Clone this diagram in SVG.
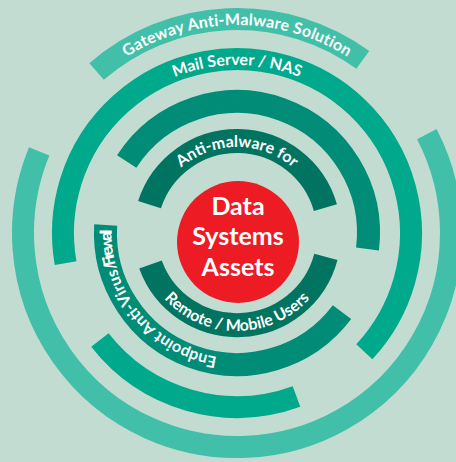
<svg xmlns="http://www.w3.org/2000/svg" width="456" height="462" viewBox="0 0 456 462">
  <style>
    .ring { fill: none; stroke-linecap: butt; }
    .r4 { stroke: #42bfa9; stroke-width: 22; }
    .r3 { stroke: #00a88c; stroke-width: 22; }
    .r2 { stroke: #008c76; stroke-width: 23; }
    .r1 { stroke: #007461; stroke-width: 24; }
    .label { fill: #ffffff; font-family: Lato, "Open Sans", sans-serif; font-weight: bold; font-size: 16px; }
    .core { fill: #ffffff; font-family: Lato, "Open Sans", sans-serif; font-weight: bold; font-size: 25px; text-anchor: middle; }
  </style>
  <defs>
    <!-- baselines for the curved labels, centred on (237,233) -->
    <path id="tp-gateway" d="M 56.9 129 A 208 208 0 0 1 417.1 129"/>
    <path id="tp-mail" d="M 91.5 149 A 168 168 0 0 1 382.5 149"/>
    <path id="tp-anti" d="M 151 233 A 86 86 0 0 1 323 233"/>
    <path id="tp-remote" d="M 139 233 A 98 98 0 0 0 335 233"/>
    <path id="tp-endpoint" d="M 337.2 308.5 A 125.5 125.5 0 0 1 111.7 225.3"/>
  </defs>

  <rect width="456" height="462" fill="#c2dcd1"/>

  <g id="connectors"></g>

  <!-- outer ring: gateway arc plus the long wrap-around arc -->
  <g id="gateway">
    <path class="ring r4" d="M 96.6 71.5 A 214 214 0 0 1 362.8 59.9"/>
    <text class="label" font-size="17.5" letter-spacing="0.2"><textPath href="#tp-gateway" startOffset="50%" text-anchor="middle">Gateway Anti-Malware Solution</textPath></text>
  </g>
  <g id="outer-arc">
    <path class="ring r4" d="M 426.8 134.2 A 214 214 0 1 1 39.2 151.4"/>
  </g>

  <!-- ring 3 -->
  <g id="mail-server">
    <path class="ring r3" d="M 65.6 263.2 A 174 174 0 1 1 364.3 351.7"/>
    <text class="label" font-size="16.5"><textPath href="#tp-mail" startOffset="50%" text-anchor="middle">Mail Server / NAS</textPath></text>
  </g>
  <g id="ring3-lower">
    <path class="ring r3" d="M 296.5 396.5 A 174 174 0 0 1 99.9 340.1"/>
  </g>

  <!-- ring 2 -->
  <g id="ring2-upper">
    <path class="ring r2" d="M 126.7 161.4 A 131.5 131.5 0 0 1 367.5 249.0"/>
  </g>
  <g id="endpoint">
    <path class="ring r2" d="M 342.0 312.1 A 131.5 131.5 0 0 1 105.7 225.0"/>
    <text class="label"><textPath href="#tp-endpoint" startOffset="136">Endpoint Anti-Virus/</textPath></text>
    <text class="label" letter-spacing="-3"><textPath href="#tp-endpoint" startOffset="281">Firewall</textPath></text>
  </g>

  <!-- ring 1 -->
  <g id="anti-malware">
    <path class="ring r1" d="M 149.5 204.6 A 92 92 0 0 1 325.4 207.6"/>
    <text class="label"><textPath href="#tp-anti" startOffset="50%" text-anchor="middle">Anti-malware for</textPath></text>
  </g>
  <g id="remote-users">
    <path class="ring r1" d="M 150.5 264.5 A 92 92 0 0 0 325.9 256.8"/>
    <text class="label"><textPath href="#tp-remote" startOffset="50%" text-anchor="middle">Remote / Mobile Users</textPath></text>
  </g>

  <!-- core -->
  <g id="core">
    <circle cx="238" cy="242" r="61" fill="#ed1c24"/>
    <text class="core" x="238" y="215">Data</text>
    <text class="core" x="238" y="245">Systems</text>
    <text class="core" x="238" y="276">Assets</text>
  </g>
</svg>
